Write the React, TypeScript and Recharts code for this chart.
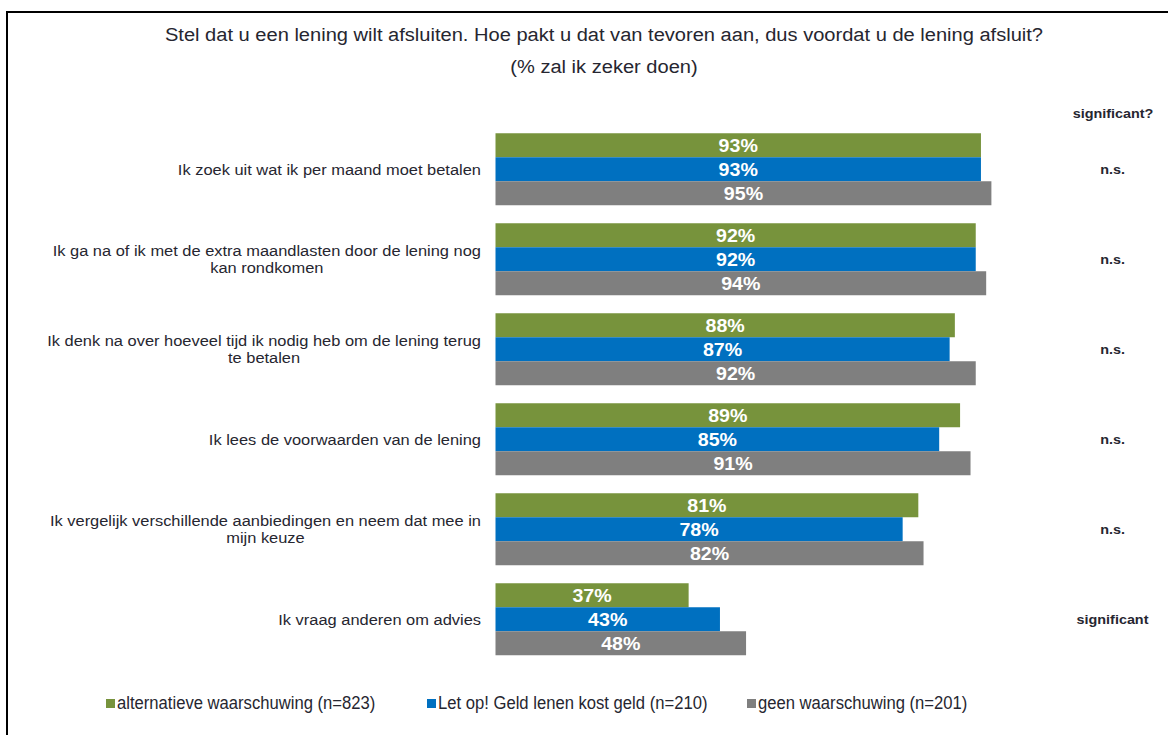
import React from 'react';
import { BarChart, Bar, XAxis, YAxis, Legend, LabelList } from 'recharts';

const categories = [
  'Ik zoek uit wat ik per maand moet betalen',
  'Ik ga na of ik met de extra maandlasten door de lening nog|kan rondkomen',
  'Ik denk na over hoeveel tijd ik nodig heb om de lening terug|te betalen',
  'Ik lees de voorwaarden van de lening',
  'Ik vergelijk verschillende aanbiedingen en neem dat mee in|mijn keuze',
  'Ik vraag anderen om advies',
];
const alternatief = [93, 92, 88, 89, 81, 37];
const letOp = [93, 92, 87, 85, 78, 43];
const geen = [95, 94, 92, 91, 82, 48];
const significance = ['n.s.', 'n.s.', 'n.s.', 'n.s.', 'n.s.', 'significant'];

const seriesNames = [
  'alternatieve waarschuwing (n=823)',
  'Let op! Geld lenen kost geld (n=210)',
  'geen waarschuwing (n=201)',
];
const colors = ['#77933C', '#0070C0', '#7F7F7F'];

const data = categories.map((c, i) => ({
  label: c,
  alt: alternatief[i],
  letop: letOp[i],
  geen: geen[i],
}));

const FONT = '"Liberation Sans", Arial, sans-serif';
const TEXT = '#262630';
const SX = 1.06;

let ctx: CanvasRenderingContext2D | null = null;
function measure(text: string, size: number, weight = 'normal') {
  if (!ctx && typeof document !== 'undefined') {
    ctx = document.createElement('canvas').getContext('2d');
  }
  if (!ctx) return text.length * size * 0.5;
  ctx.font = `${weight} ${size}px ${FONT}`;
  return ctx.measureText(text).width;
}

const CAT_SIZE = 15.5;
const CatTick = (props: any) => {
  const { x, y, payload } = props;
  const lines: string[] = String(payload.value).split('|');
  const widths = lines.map((l) => measure(l, CAT_SIZE) * SX);
  const maxW = Math.max(...widths);
  const cx = x - maxW / 2;
  const lh = 17;
  return (
    <g>
      {lines.map((l, i) => (
        <g key={i} transform={`translate(${cx},${y + (i - (lines.length - 1) / 2) * lh}) scale(${SX},1)`}>
          <text x={0} y={0} dy="0.36em" textAnchor="middle" fontFamily={FONT} fontSize={CAT_SIZE} fill={TEXT}>
            {l}
          </text>
        </g>
      ))}
    </g>
  );
};

const SigTick = (props: any) => {
  const { x, y, index } = props;
  return (
    <g transform={`translate(${x + 95},${y}) scale(1.15,1)`}>
      <text x={0} y={0} dy="0.36em" textAnchor="middle" fontFamily={FONT} fontSize={12.5} fontWeight="bold" fill={TEXT}>
        {significance[index]}
      </text>
    </g>
  );
};

const BarLabel = (props: any) => {
  const { x, y, width, height, value } = props;
  return (
    <g transform={`translate(${x + width / 2},${y + height / 2}) scale(1.09,1)`}>
      <text x={0} y={0} dy="0.36em" textAnchor="middle" fontFamily={FONT} fontSize={18} fontWeight="bold" fill="#ffffff">
        {value}%
      </text>
    </g>
  );
};

const legendLefts = [106, 427, 747];
const LegendContent = () => (
  <div style={{ position: 'relative', height: 20, width: 1168 }}>
    {seriesNames.map((n, i) => (
      <div key={n} style={{ position: 'absolute', left: legendLefts[i], top: 0, height: 20, display: 'flex', alignItems: 'center' }}>
        <span style={{ display: 'inline-block', width: 9, height: 9, background: colors[i], marginRight: 2 }} />
        <span
          style={{
            display: 'inline-block',
            fontFamily: FONT,
            fontSize: 17.5,
            color: TEXT,
            transform: 'scaleX(0.95)',
            transformOrigin: 'left center',
            whiteSpace: 'nowrap',
            lineHeight: '20px',
          }}
        >
          {n}
        </span>
      </div>
    ))}
  </div>
);

export default function App() {
  return (
    <div style={{ position: 'absolute', left: 0, top: 0, width: 1168, height: 735, overflow: 'hidden', background: '#fff' }}>
      <div
        style={{
          position: 'absolute',
          left: 6,
          top: 11,
          width: 1200,
          height: 800,
          borderLeft: '2px solid #000',
          borderTop: '2px solid #000',
        }}
      />
      <div
        style={{
          position: 'absolute',
          left: 0,
          width: 1208,
          top: 19,
          textAlign: 'center',
          fontFamily: FONT,
          fontSize: 18,
          color: TEXT,
          lineHeight: '32px',
        }}
      >
        <div style={{ transform: 'scaleX(1.115)' }}>
          Stel dat u een lening wilt afsluiten. Hoe pakt u dat van tevoren aan, dus voordat u de lening afsluit?
        </div>
        <div style={{ transform: 'scaleX(1.115)' }}>(% zal ik zeker doen)</div>
      </div>
      <div
        style={{
          position: 'absolute',
          left: 1113,
          top: 107,
          transform: 'translateX(-50%) scaleX(1.15)',
          fontFamily: FONT,
          fontSize: 12.5,
          fontWeight: 'bold',
          color: TEXT,
          whiteSpace: 'nowrap',
        }}
      >
        significant?
      </div>
      <div style={{ position: 'absolute', left: 0, top: 0 }}>
        <BarChart
          width={1168}
          height={735}
          data={data}
          layout="vertical"
          margin={{ top: 124.3, right: 0, bottom: 70.7, left: 0 }}
          barCategoryGap="10%"
          barGap={0}
        >
          <XAxis type="number" domain={[0, 100]} hide />
          <YAxis
            yAxisId="left"
            type="category"
            dataKey="label"
            width={495.5}
            axisLine={false}
            tickLine={false}
            tickSize={0}
            tickMargin={14.5}
            tick={<CatTick />}
            interval={0}
          />
          <YAxis
            yAxisId="right"
            orientation="right"
            type="category"
            dataKey="label"
            width={150.5}
            axisLine={false}
            tickLine={false}
            tickSize={0}
            tickMargin={0}
            tick={<SigTick />}
            interval={0}
          />
          <Legend
            verticalAlign="middle"
            layout="horizontal"
            content={<LegendContent />}
            wrapperStyle={{ top: 693, left: 0, width: 1168, height: 20 }}
          />
          <Bar yAxisId="left" dataKey="alt" name={seriesNames[0]} fill={colors[0]} isAnimationActive={false}>
            <LabelList dataKey="alt" content={<BarLabel />} />
          </Bar>
          <Bar yAxisId="left" dataKey="letop" name={seriesNames[1]} fill={colors[1]} isAnimationActive={false}>
            <LabelList dataKey="letop" content={<BarLabel />} />
          </Bar>
          <Bar yAxisId="left" dataKey="geen" name={seriesNames[2]} fill={colors[2]} isAnimationActive={false}>
            <LabelList dataKey="geen" content={<BarLabel />} />
          </Bar>
        </BarChart>
      </div>
    </div>
  );
}
